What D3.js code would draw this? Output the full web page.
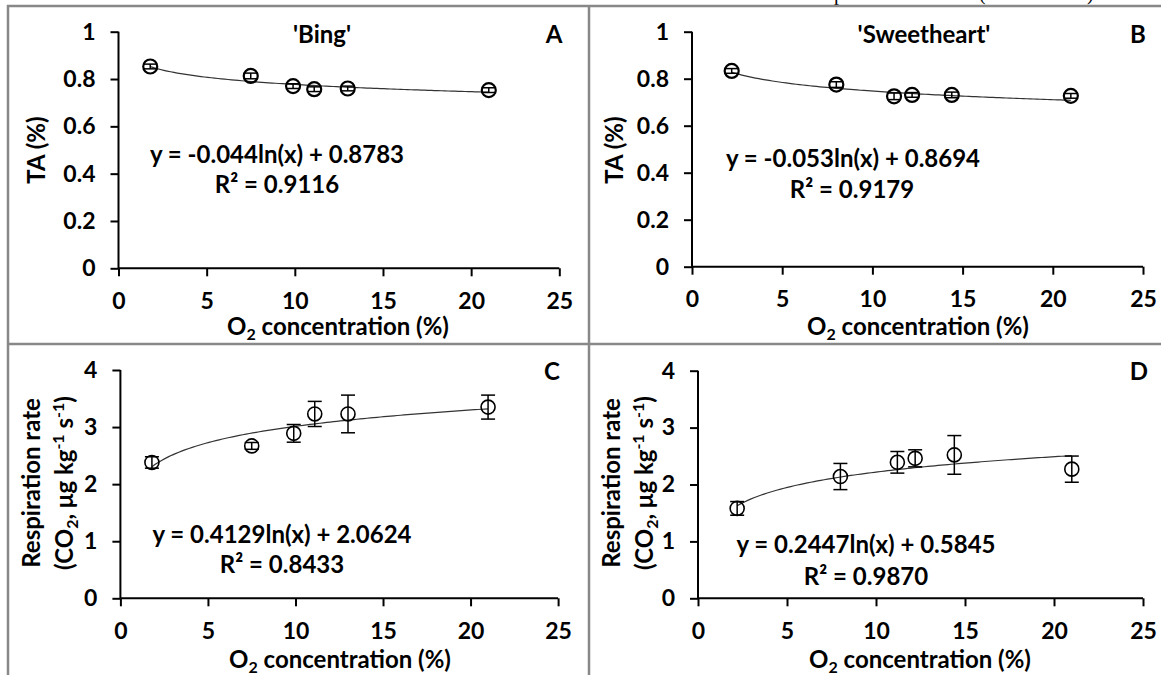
<!DOCTYPE html>
<html>
<head>
<meta charset="utf-8">
<script src="https://cdn.jsdelivr.net/npm/d3@7"></script>
<style>
  body { margin: 0; background: #fff; }
  svg { display: block; font-family: Lato, "Open Sans", sans-serif; font-weight: bold; }
</style>
</head>
<body>
<div id="chart"></div>
<script>
// data
const o2Bing = [1.8, 7.5, 9.9, 11.1, 13.0, 21.0];
const o2Sweet = [2.2, 8.0, 11.2, 12.2, 14.4, 21.0];

const taBing = [0.853, 0.813, 0.770, 0.757, 0.760, 0.753];
const taBingErr = [0.010, 0.012, 0.010, 0.010, 0.010, 0.010];
const taSweet = [0.833, 0.775, 0.725, 0.731, 0.731, 0.727];
const taSweetErr = [0.010, 0.012, 0.014, 0.010, 0.012, 0.010];

const respBing = [2.38, 2.67, 2.89, 3.23, 3.23, 3.35];
const respBingErr = [0.10, 0.06, 0.155, 0.22, 0.33, 0.21];
const respSweet = [1.58, 2.14, 2.39, 2.46, 2.52, 2.27];
const respSweetErr = [0.12, 0.23, 0.19, 0.15, 0.34, 0.23];

// log trendline coefficients [a, b] for y = a ln(x) + b, as drawn
const fitA = [-0.044, 0.8783];
const fitB = [-0.053, 0.8694];
const fitC = [0.4129, 2.0624];
const fitD = [0.39, 1.32];

const eqLabels = ["y = -0.044ln(x) + 0.8783", "y = -0.053ln(x) + 0.8694",
                  "y = 0.4129ln(x) + 2.0624", "y = 0.2447ln(x) + 0.5845"];
const r2Labels = ["0.9116", "0.9179", "0.8433", "0.9870"];
const cultivars = ["'Bing'", "'Sweetheart'", "", ""];
const panelLetters = ["A", "B", "C", "D"];

const xTicks = [0, 5, 10, 15, 20, 25];
const taTicks = ["0", "0.2", "0.4", "0.6", "0.8", "1"];
const respTicks = [0, 1, 2, 3, 4];

const W = 1161, H = 675;
const FS = 24;
const svg = d3.select('#chart').append('svg')
  .attr('width', W).attr('height', H);

// caption text cut by the top edge
const cap = svg.append('g').attr('font-family', '"Liberation Serif", serif')
  .attr('font-weight', 'normal').attr('font-size', 20).attr('fill', '#000');
cap.append('text').attr('x', 616).attr('y', 0).text('1');
cap.append('text').attr('x', 834).attr('y', 0).text('p');
cap.append('text').attr('x', 979).attr('y', 0).text('(');
cap.append('text').attr('x', 1087).attr('y', 0).text(')');

// panel frames
const frame = svg.append('g').attr('stroke', '#888').attr('stroke-width', 2.5);
frame.append('line').attr('x1', 7).attr('x2', W).attr('y1', 6).attr('y2', 6);
frame.append('line').attr('x1', 8).attr('x2', 8).attr('y1', 5).attr('y2', H);
frame.append('line').attr('x1', 589).attr('x2', 589).attr('y1', 5).attr('y2', H);
frame.append('line').attr('x1', 7).attr('x2', W).attr('y1', 344).attr('y2', 344);

const panels = [
  {x: o2Bing, y: taBing, err: taBingErr, fit: fitA, yTicks: taTicks.map(Number), yFmt: (d, i) => taTicks[i],
   yMax: 1, left: 118.5, right: 559.3, top: 31.7, bottom: 268.3,
   title: [322, 43], letter: [554, 43], eq: [277, 163], r2: [277, 193], ytitle: 'ta', ytx: 37, yty: 150, xt: 338, xtb: 335},
  {x: o2Sweet, y: taSweet, err: taSweetErr, fit: fitB, yTicks: taTicks.map(Number), yFmt: (d, i) => taTicks[i],
   yMax: 1, left: 692, right: 1143, top: 31.7, bottom: 266.7,
   title: [924, 43], letter: [1138, 43], eq: [853, 167], r2: [852, 198], ytitle: 'ta', ytx: 615, yty: 150, xt: 918, xtb: 335},
  {x: o2Bing, y: respBing, err: respBingErr, fit: fitC, yTicks: respTicks, yFmt: d => d,
   yMax: 4, left: 120.4, right: 558.1, top: 370, bottom: 598.3,
   title: [0, 0], letter: [552, 380], eq: [282, 543], r2: [282, 573], ytitle: 'resp', ytx: 31.5, yty: 483, xt: 340, xtb: 668},
  {x: o2Sweet, y: respSweet, err: respSweetErr, fit: fitD, yTicks: respTicks, yFmt: d => d,
   yMax: 4, left: 698, right: 1143, top: 370.7, bottom: 598.3,
   title: [0, 0], letter: [1139, 380], eq: [866, 553], r2: [866, 585], ytitle: 'resp', ytx: 611.5, yty: 483, xt: 920, xtb: 668}
];

panels.forEach((p, k) => {
  const x = d3.scaleLinear().domain([0, 25]).range([p.left, p.right]);
  const y = d3.scaleLinear().domain([0, p.yMax]).range([p.bottom, p.top]);
  const g = svg.append('g');

  // axes
  const xAxis = g.append('g').attr('transform', `translate(0,${p.bottom})`)
    .call(d3.axisBottom(x).tickValues(xTicks).tickSize(8).tickPadding(16).tickFormat(d => d));
  const yAxis = g.append('g').attr('transform', `translate(${p.left},0)`)
    .call(d3.axisLeft(y).tickValues(p.yTicks).tickSize(8).tickPadding(15).tickFormat(p.yFmt));
  [xAxis, yAxis].forEach(a => {
    a.select('.domain').attr('stroke', '#000').attr('stroke-width', 2);
    a.selectAll('.tick line').attr('stroke', '#000').attr('stroke-width', 2);
    a.selectAll('.tick text').attr('font-family', 'Lato').attr('font-weight', 'bold')
      .attr('font-size', 23).attr('fill', '#000');
  });
  xAxis.select('.domain').attr('d', `M${p.left},0H${p.right}`);
  yAxis.select('.domain').attr('d', `M0,${p.top}V${p.bottom}`);

  // trendline
  const xs = d3.range(0, 101).map(i => d3.min(p.x) + (d3.max(p.x) - d3.min(p.x)) * i / 100);
  g.append('path')
    .datum(xs)
    .attr('fill', 'none').attr('stroke', '#333').attr('stroke-width', 1.2)
    .attr('d', d3.line().x(d => x(d)).y(d => y(p.fit[0] * Math.log(d) + p.fit[1])));

  // error bars + markers
  const pts = p.x.map((v, i) => ({x: v, y: p.y[i], e: p.err[i]}));
  const pt = g.selectAll('.pt').data(pts).enter().append('g').attr('class', 'pt');
  pt.append('line')
    .attr('x1', d => x(d.x)).attr('x2', d => x(d.x))
    .attr('y1', d => y(d.y - d.e)).attr('y2', d => y(d.y + d.e))
    .attr('stroke', '#000').attr('stroke-width', 1.5);
  [-1, 1].forEach(s => {
    pt.append('line')
      .attr('x1', d => x(d.x) - 7).attr('x2', d => x(d.x) + 7)
      .attr('y1', d => y(d.y + s * d.e)).attr('y2', d => y(d.y + s * d.e))
      .attr('stroke', '#000').attr('stroke-width', 1.5);
  });
  pt.append('circle')
    .attr('cx', d => x(d.x)).attr('cy', d => y(d.y)).attr('r', 7)
    .attr('fill', 'none').attr('stroke', '#000').attr('stroke-width', k < 2 ? 2.2 : 1.6);

  // labels
  if (cultivars[k]) {
    g.append('text').attr('x', p.title[0]).attr('y', p.title[1]).attr('text-anchor', 'middle')
      .attr('font-size', FS).text(cultivars[k]);
  }
  g.append('text').attr('x', p.letter[0]).attr('y', p.letter[1]).attr('text-anchor', 'middle')
    .attr('font-size', FS).text(panelLetters[k]);
  g.append('text').attr('x', p.eq[0]).attr('y', p.eq[1]).attr('text-anchor', 'middle')
    .attr('font-size', FS).text(eqLabels[k]);
  const r2 = g.append('text').attr('x', p.r2[0]).attr('y', p.r2[1]).attr('text-anchor', 'middle')
    .attr('font-size', FS);
  r2.append('tspan').text('R²');
  r2.append('tspan').text(' = ' + r2Labels[k]);

  // x title
  const xt = g.append('text').attr('x', p.xt).attr('y', p.xtb).attr('text-anchor', 'middle')
    .attr('font-size', FS);
  xt.append('tspan').text('O');
  xt.append('tspan').attr('font-size', 16).attr('dy', 5).text('2');
  xt.append('tspan').attr('dy', -5).text(' concentration (%)');

  // y title
  if (p.ytitle === 'ta') {
    g.append('text').attr('transform', `translate(${p.ytx},${p.yty}) rotate(-90)`)
      .attr('text-anchor', 'middle').attr('dy', '0.35em').attr('font-size', FS).text('TA (%)');
  } else {
    g.append('text').attr('transform', `translate(${p.ytx},${p.yty}) rotate(-90)`)
      .attr('text-anchor', 'middle').attr('dy', '0.35em').attr('font-size', FS).text('Respiration rate');
    const t2 = g.append('text').attr('transform', `translate(${p.ytx + 33},${p.yty}) rotate(-90)`)
      .attr('text-anchor', 'middle').attr('dy', '0.35em').attr('font-size', FS);
    t2.append('tspan').text('(CO');
    t2.append('tspan').attr('font-size', 16).attr('dy', 5).text('2');
    t2.append('tspan').attr('dy', -5).text(', μg kg');
    t2.append('tspan').attr('font-size', 16).attr('dy', -9).text('-1');
    t2.append('tspan').attr('dy', 9).text(' s');
    t2.append('tspan').attr('font-size', 16).attr('dy', -9).text('-1');
    t2.append('tspan').attr('dy', 9).text(')');
  }
});
</script>
</body>
</html>
